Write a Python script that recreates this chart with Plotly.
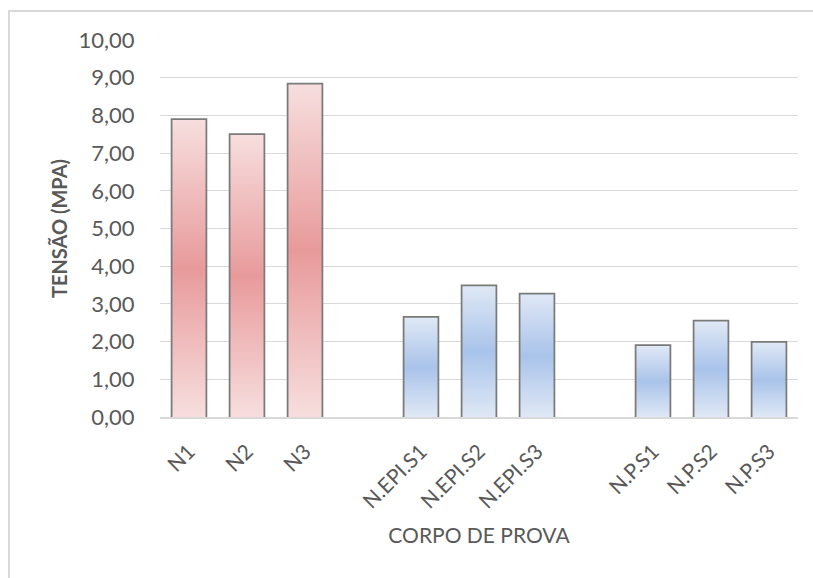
import plotly.graph_objects as go

# Specimens and measured stress (MPa)
categories = ["N1", "N2", "N3", "N.EPI.S1", "N.EPI.S2", "N.EPI.S3", "N.P.S1", "N.P.S2", "N.P.S3"]
tensao = [7.88, 7.48, 8.82, 2.63, 3.47, 3.25, 1.88, 2.53, 1.97]
# slot index on the x axis (empty slots separate the three groups)
slots = [0, 1, 2, 4, 5, 6, 8, 9, 10]
groups = ["N", "N", "N", "EPI", "EPI", "EPI", "P", "P", "P"]

palette = {
    "N": ("#e89a9b", "#f7dede"),
    "EPI": ("#a9c3ea", "#dfe8f5"),
    "P": ("#a9c3ea", "#dfe8f5"),
}

BAR_W = 0.57
FONT = "Lato, 'Open Sans', sans-serif"
TXT = "#595959"

fig = go.Figure()

# Gradient-filled bodies, one polygon per bar built from its value
for x, v, g in zip(slots, tensao, groups):
    center, edge = palette[g]
    fig.add_trace(go.Scatter(
        x=[x - BAR_W / 2, x + BAR_W / 2, x + BAR_W / 2, x - BAR_W / 2, x - BAR_W / 2],
        y=[0, 0, v, v, 0],
        mode="lines",
        line=dict(width=0, color="rgba(0,0,0,0)"),
        fill="toself",
        fillgradient=dict(type="vertical",
                          colorscale=[[0, edge], [0.5, center], [1, edge]]),
        hoverinfo="skip",
        showlegend=False,
    ))

# Bar outlines
fig.add_trace(go.Bar(
    x=slots,
    y=tensao,
    width=BAR_W,
    marker=dict(color="rgba(0,0,0,0)", line=dict(color="#7a7a7a", width=3.5)),
    showlegend=False,
    hovertemplate="%{y:.2f}<extra></extra>",
))

fig.update_layout(
    width=813,
    height=578,
    margin=dict(l=160, r=15, t=40, b=161),
    paper_bgcolor="white",
    plot_bgcolor="white",
    separators=",.",
    font=dict(family=FONT, color=TXT, size=20),
    showlegend=False,
    shapes=[dict(
        type="rect", xref="paper", yref="paper",
        x0=-0.2367, x1=1.15, y0=-0.6, y1=1.0769,
        line=dict(color="#d9d9d9", width=2), fillcolor="rgba(0,0,0,0)",
        layer="below",
    )],
)

fig.update_xaxes(
    range=[-0.5, 10.5],
    tickmode="array",
    tickvals=slots,
    ticktext=categories,
    tickangle=-45,
    ticks="outside",
    ticklen=12,
    tickcolor="rgba(0,0,0,0)",
    tickfont=dict(size=21, color=TXT),
    showline=True,
    linecolor="#d9d9d9",
    linewidth=2,
    showgrid=False,
    zeroline=False,
    title=dict(text="CORPO DE PROVA", font=dict(size=21, color=TXT), standoff=17),
    automargin=False,
)

fig.update_yaxes(
    range=[0, 10],
    dtick=1,
    tickformat=".2f",
    ticks="outside",
    ticklen=20,
    tickcolor="rgba(0,0,0,0)",
    tickfont=dict(size=22, color=TXT),
    showgrid=True,
    gridcolor="#d9d9d9",
    gridwidth=1.3,
    zeroline=False,
    showline=False,
    title=dict(text="<b>TENSÃO (MPA)</b>", font=dict(size=20, color=TXT), standoff=5),
    automargin=False,
)

fig.write_html("out.html")
